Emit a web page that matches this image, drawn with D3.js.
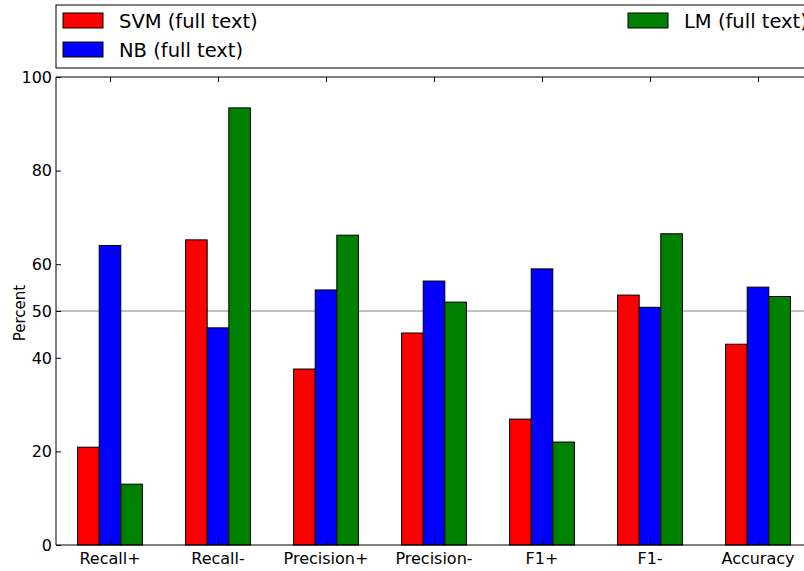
<!DOCTYPE html>
<html>
<head>
<meta charset="utf-8">
<script src="https://cdn.jsdelivr.net/npm/d3@7"></script>
<style>
  body { margin: 0; background: #fff; }
  svg { display: block; font-family: "DejaVu Sans", sans-serif; }
</style>
</head>
<body>
<div id="chart"></div>
<script>
// categories and series
var categories = ["Recall+", "Recall-", "Precision+", "Precision-", "F1+", "F1-", "Accuracy"];
var seriesNames = ["SVM (full text)", "NB (full text)", "LM (full text)"];
var seriesColors = ["#ff0000", "#0000ff", "#008000"];
var svmValues = [20.9, 65.2, 37.6, 45.3, 26.9, 53.4, 42.9];
var nbValues = [64.0, 46.4, 54.5, 56.4, 59.0, 50.8, 55.1];
var lmValues = [13.0, 93.4, 66.2, 51.9, 22.0, 66.5, 53.1];
var yTicks = [0, 20, 40, 50, 60, 80, 100];

var series = [svmValues, nbValues, lmValues];

var width = 804, height = 571;
var plotLeft = 56, plotTop = 77, plotBottom = 545;

var svg = d3.select("#chart").append("svg")
    .attr("width", width)
    .attr("height", height);

// x in "bar index" units like matplotlib: xlim -0.5 .. 6.5
var x = d3.scaleLinear().domain([-0.5, 6.5]).range([plotLeft, plotLeft + 108 * 7]);
var y = d3.scaleLinear().domain([0, 100]).range([plotBottom, plotTop]);
var barW = 0.2;

// reference line at 50
svg.append("line")
    .attr("x1", plotLeft).attr("x2", width)
    .attr("y1", y(50)).attr("y2", y(50))
    .attr("stroke", "#808080").attr("stroke-width", 1);

// bars
series.forEach(function (vals, s) {
    svg.append("g").selectAll("rect")
        .data(vals)
        .enter().append("rect")
        .attr("x", function (d, i) { return x(i + (s - 1.5) * barW); })
        .attr("width", x(barW) - x(0))
        .attr("y", function (d) { return y(d); })
        .attr("height", function (d) { return y(0) - y(d); })
        .attr("fill", seriesColors[s])
        .attr("stroke", "#000")
        .attr("stroke-width", 1);
});

// frame (right side is off the page)
var frame = svg.append("g").attr("fill", "none").attr("stroke", "#000").attr("stroke-width", 1);
frame.append("line").attr("x1", plotLeft).attr("x2", plotLeft).attr("y1", plotTop).attr("y2", plotBottom);
frame.append("line").attr("x1", plotLeft).attr("x2", x(6.5)).attr("y1", plotTop).attr("y2", plotTop);
frame.append("line").attr("x1", plotLeft).attr("x2", x(6.5)).attr("y1", plotBottom).attr("y2", plotBottom);

// y axis: ticks point inward
var yAxis = svg.append("g")
    .attr("transform", "translate(" + plotLeft + ",0)")
    .call(d3.axisRight(y).tickValues(yTicks).tickSize(5).tickFormat(""));
yAxis.select(".domain").remove();
yAxis.selectAll("line").attr("stroke", "#000");
svg.append("g").selectAll("text")
    .data(yTicks)
    .enter().append("text")
    .attr("x", plotLeft - 4)
    .attr("y", function (d) { return y(d); })
    .attr("dy", "0.36em")
    .attr("text-anchor", "end")
    .attr("font-size", 16)
    .text(function (d) { return d; });

// x axis ticks top and bottom, inward
var xb = svg.append("g")
    .attr("transform", "translate(0," + plotBottom + ")")
    .call(d3.axisTop(x).tickValues(d3.range(categories.length)).tickSize(5).tickFormat(""));
xb.select(".domain").remove();
xb.selectAll("line").attr("stroke", "#000");
var xt = svg.append("g")
    .attr("transform", "translate(0," + plotTop + ")")
    .call(d3.axisBottom(x).tickValues(d3.range(categories.length)).tickSize(5).tickFormat(""));
xt.select(".domain").remove();
xt.selectAll("line").attr("stroke", "#000");

svg.append("g").selectAll("text")
    .data(categories)
    .enter().append("text")
    .attr("x", function (d, i) { return x(i); })
    .attr("y", plotBottom + 19)
    .attr("text-anchor", "middle")
    .attr("font-size", 16)
    .text(function (d) { return d; });

// y label
svg.append("text")
    .attr("transform", "translate(25," + (y(50) + 2) + ") rotate(-90)")
    .attr("text-anchor", "middle")
    .attr("font-size", 15)
    .text("Percent");

// legend
var legend = svg.append("g");
legend.append("rect")
    .attr("x", plotLeft).attr("y", 5)
    .attr("width", x(6.5) - plotLeft).attr("height", 63)
    .attr("fill", "#fff").attr("stroke", "#000").attr("stroke-width", 1);

var legendPos = [[63, 13], [63, 42], [628, 13]];
seriesNames.forEach(function (name, s) {
    var p = legendPos[s];
    legend.append("rect")
        .attr("x", p[0]).attr("y", p[1])
        .attr("width", 40).attr("height", 15)
        .attr("fill", seriesColors[s])
        .attr("stroke", "#000").attr("stroke-width", 1);
    legend.append("text")
        .attr("x", p[0] + 56).attr("y", p[1] + 15)
        .attr("font-size", 19.5)
        .text(name);
});
</script>
</body>
</html>
